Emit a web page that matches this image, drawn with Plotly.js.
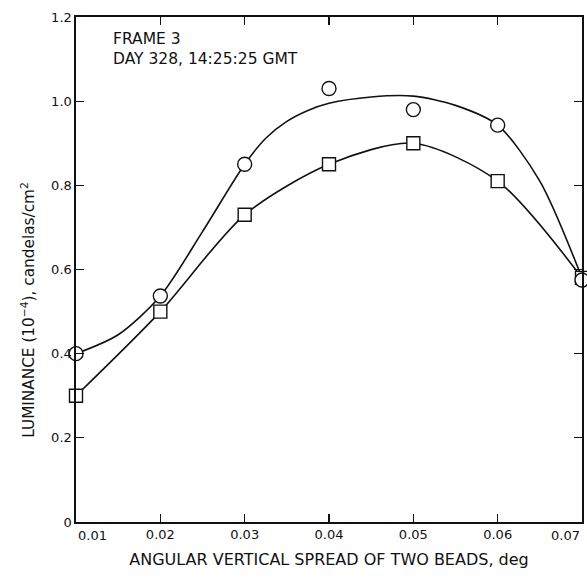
<!DOCTYPE html>
<html>
<head>
<meta charset="utf-8">
<script src="https://cdn.plot.ly/plotly-3.0.1.min.js"></script>
<style>html,body{margin:0;padding:0;background:#fff;}#chart{width:587px;height:578px;}</style>
</head>
<body>
<div id="chart"></div>
<script>
// Data
const spread = [0.01, 0.02, 0.03, 0.04, 0.05, 0.06, 0.07];
const circleLum = [0.40, 0.537, 0.85, 1.03, 0.98, 0.943, 0.575];
const squareLum = [0.30, 0.50, 0.73, 0.85, 0.90, 0.81, 0.58];
// Hand-drawn fitted curve through the circle points
const circleCurveX = [0.01, 0.015, 0.02, 0.025, 0.03, 0.0325, 0.035, 0.0375, 0.04, 0.045, 0.05, 0.055, 0.06, 0.065, 0.07];
const circleCurveY = [0.40, 0.445, 0.537, 0.69, 0.85, 0.912, 0.952, 0.978, 0.995, 1.01, 1.012, 0.99, 0.943, 0.81, 0.58];
const xTicks = [0.01, 0.02, 0.03, 0.04, 0.05, 0.06, 0.07];
const xTickText = ["0.01", "0.02", "0.03", "0.04", "0.05", "0.06", "0.07"];
const yTicks = [0, 0.2, 0.4, 0.6, 0.8, 1.0, 1.2];
const yTickText = ["0", "0.2", "0.4", "0.6", "0.8", "1.0", "1.2"];

const FONT = "DejaVu Sans, Arial, sans-serif";

const traces = [
  {x: circleCurveX, y: circleCurveY, mode: "lines", line: {color: "#111", width: 1.6, shape: "spline", smoothing: 0.8}, hoverinfo: "skip", cliponaxis: false},
  {x: spread, y: squareLum, mode: "lines+markers", line: {color: "#111", width: 1.6, shape: "spline", smoothing: 0.8},
   marker: {symbol: "square", size: 13, color: "#fff", line: {color: "#111", width: 1.4}}, cliponaxis: false},
  {x: spread, y: circleLum, mode: "markers",
   marker: {symbol: "circle", size: 14, color: "#fff", line: {color: "#111", width: 1.4}}, cliponaxis: false}
];

// Inner tick labels drawn by the axis; end labels drawn as axis-anchored annotations
const innerText = xTickText.map((t, i) => (i === 0 || i === xTickText.length - 1) ? "" : t);

const layout = {
  width: 587, height: 578,
  margin: {l: 76, r: 5, t: 17, b: 56},
  paper_bgcolor: "#fff", plot_bgcolor: "#fff",
  showlegend: false,
  font: {family: FONT, color: "#111", size: 13},
  xaxis: {
    range: [0.01, 0.07], tickvals: xTicks, ticktext: innerText,
    ticks: "inside", ticklen: 8, tickwidth: 1.3, tickcolor: "#111",
    showline: true, linecolor: "#111", linewidth: 1.6, mirror: "ticks",
    showgrid: false, zeroline: false,
    tickfont: {family: FONT, size: 13},
    title: {text: "ANGULAR VERTICAL SPREAD OF TWO BEADS, deg", font: {family: FONT, size: 16}, standoff: 12}
  },
  yaxis: {
    range: [0, 1.2], tickvals: yTicks, ticktext: yTickText,
    ticks: "inside", ticklen: 8, tickwidth: 1.3, tickcolor: "#111",
    showline: true, linecolor: "#111", linewidth: 1.6, mirror: "ticks",
    showgrid: false, zeroline: false,
    tickfont: {family: FONT, size: 13}
  },
  annotations: [
    {text: xTickText[0], xref: "x", yref: "paper", x: xTicks[0], y: 0, yshift: -4,
     xanchor: "left", yanchor: "top", showarrow: false, font: {family: FONT, size: 13}},
    {text: xTickText[xTickText.length - 1], xref: "x", yref: "paper", x: xTicks[xTicks.length - 1], y: 0, yshift: -4,
     xanchor: "right", yanchor: "top", showarrow: false, font: {family: FONT, size: 13}},
    {text: "FRAME 3<br>DAY 328, 14:25:25 GMT", xref: "paper", yref: "paper", x: 0.07, y: 0.978,
     xanchor: "left", yanchor: "top", align: "left", showarrow: false, font: {family: FONT, size: 15.5}},
    {text: "LUMINANCE (10<sup>−4</sup>), candelas/cm<sup>2</sup>", xref: "paper", yref: "paper",
     x: -0.095, y: 0.42, xanchor: "center", yanchor: "middle", textangle: -90, showarrow: false,
     font: {family: FONT, size: 15.3}}
  ]
};

Plotly.newPlot("chart", traces, layout, {displayModeBar: false, staticPlot: true});
</script>
</body>
</html>
